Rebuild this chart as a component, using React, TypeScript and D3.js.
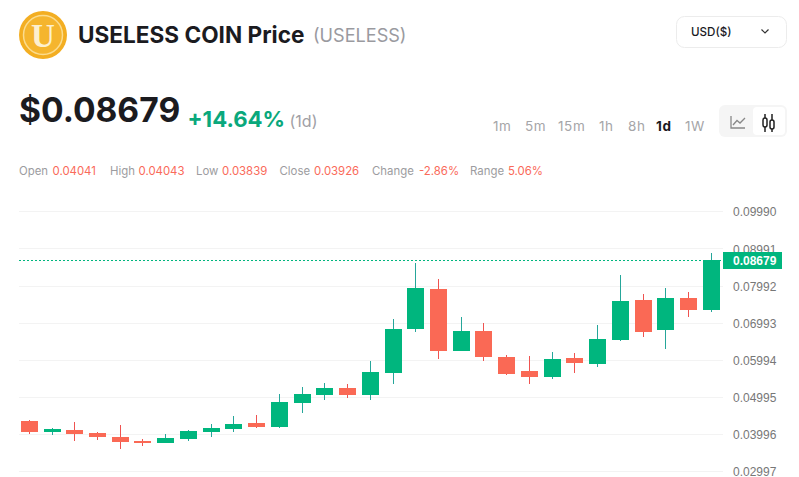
import React, { useEffect, useRef } from 'react';
import * as d3 from 'd3';

const opens = [0.04352, 0.04056, 0.0411, 0.04041, 0.03921, 0.03813, 0.0376, 0.03867, 0.04056, 0.04137, 0.04298, 0.04191, 0.04837, 0.05053, 0.05241, 0.05053, 0.05645, 0.06831, 0.07908, 0.06238, 0.06777, 0.06076, 0.05699, 0.05538, 0.06049, 0.05888, 0.06534, 0.07612, 0.06804, 0.07666, 0.07343];
const highs = [0.04379, 0.04164, 0.04325, 0.04043, 0.04244, 0.03867, 0.04002, 0.0411, 0.04271, 0.04487, 0.04514, 0.0508, 0.05268, 0.05376, 0.05349, 0.05969, 0.071, 0.08609, 0.08178, 0.07154, 0.06992, 0.0613, 0.06103, 0.06211, 0.06184, 0.06938, 0.08285, 0.07774, 0.07935, 0.07828, 0.08878];
const lows = [0.04002, 0.03975, 0.03813, 0.03839, 0.03598, 0.03679, 0.0376, 0.03813, 0.03921, 0.04056, 0.04164, 0.04164, 0.04568, 0.04918, 0.04972, 0.04918, 0.05349, 0.0675, 0.06022, 0.06238, 0.05969, 0.05591, 0.05349, 0.05484, 0.05645, 0.05807, 0.06507, 0.06615, 0.06292, 0.07154, 0.07289];
const closes = [0.04056, 0.04137, 0.04002, 0.03926, 0.03787, 0.0376, 0.03894, 0.04083, 0.04164, 0.04271, 0.04191, 0.04864, 0.0508, 0.05241, 0.05053, 0.05672, 0.06831, 0.07935, 0.06238, 0.06777, 0.06076, 0.05618, 0.05538, 0.06022, 0.05915, 0.06561, 0.07585, 0.0675, 0.07666, 0.07343, 0.08679];

const yTicks = [0.0999, 0.08991, 0.07992, 0.06993, 0.05994, 0.04995, 0.03996, 0.02997];
const lastPrice = 0.08679;

const ohlcLabels = [
  { label: 'Open', value: '0.04041', lx: 19, vx: 52.5 },
  { label: 'High', value: '0.04043', lx: 110, vx: 138.5 },
  { label: 'Low', value: '0.03839', lx: 196, vx: 222 },
  { label: 'Close', value: '0.03926', lx: 279.5, vx: 314 },
  { label: 'Change', value: '-2.86%', lx: 372, vx: 419 },
  { label: 'Range', value: '5.06%', lx: 470, vx: 508 },
];
const intervals = [
  { label: '1m', x: 493 },
  { label: '5m', x: 525 },
  { label: '15m', x: 558 },
  { label: '1h', x: 599 },
  { label: '8h', x: 628 },
  { label: '1d', x: 656 },
  { label: '1W', x: 685 },
];

const UP = '#00b67e';
const DOWN = '#fa6955';
const UP_WICK = '#26a69a';
const DOWN_WICK = '#ef5350';
const SANS = 'Inter, "Noto Sans", sans-serif';
const crisp = (v: number) => Math.floor(v) + 0.5;

export default function App() {
  const chartRef = useRef<SVGGElement>(null);

  useEffect(() => {
    if (!chartRef.current) return;
    const g = d3.select(chartRef.current);
    g.selectAll('*').remove();

    const y = d3.scaleLinear().domain([0.02997, 0.0999]).range([471.3, 211.7]);
    const x = d3.scaleLinear().domain([0, opens.length - 1]).range([29.3, 711.3]);
    const bodyW = 17;

    // Grid lines
    g.append('g')
      .selectAll('line')
      .data(yTicks)
      .join('line')
      .attr('x1', 19)
      .attr('x2', 723)
      .attr('y1', d => crisp(y(d) + 0.2))
      .attr('y2', d => crisp(y(d) + 0.2))
      .attr('stroke', '#f3f3f3')
      .attr('stroke-width', 1);

    // Axis
    const axis = g.append('g')
      .attr('transform', 'translate(723,0.4)')
      .call(d3.axisRight(y).tickValues(yTicks).tickFormat(d => (+d).toFixed(5)).tickSize(0).tickPadding(10));
    axis.select('.domain').remove();
    axis.selectAll('text')
      .attr('font-family', '"Liberation Sans", Arial, sans-serif')
      .attr('font-size', 12)
      .attr('fill', '#777777');

    // Last price line
    g.append('line')
      .attr('x1', 19)
      .attr('x2', 723)
      .attr('y1', crisp(y(lastPrice)))
      .attr('y2', crisp(y(lastPrice)))
      .attr('stroke', UP)
      .attr('stroke-width', 1)
      .attr('stroke-dasharray', '2 2');

    // Candles
    const candles = g.append('g')
      .selectAll('g')
      .data(opens.map((o, i) => ({ i, o, h: highs[i], l: lows[i], c: closes[i] })))
      .join('g');

    candles.append('line')
      .attr('x1', d => crisp(x(d.i)))
      .attr('x2', d => crisp(x(d.i)))
      .attr('y1', d => Math.round(y(d.h)))
      .attr('y2', d => Math.round(y(d.l)))
      .attr('stroke', d => (d.c >= d.o ? UP_WICK : DOWN_WICK))
      .attr('stroke-width', 1);

    candles.append('rect')
      .attr('x', d => crisp(x(d.i)) - bodyW / 2)
      .attr('width', bodyW)
      .attr('y', d => Math.round(y(Math.max(d.o, d.c))))
      .attr('height', d => Math.max(1, Math.round(y(Math.min(d.o, d.c))) - Math.round(y(Math.max(d.o, d.c)))))
      .attr('fill', d => (d.c >= d.o ? UP : DOWN));

    // Last price tag
    g.append('rect')
      .attr('x', 723)
      .attr('y', Math.round(y(lastPrice)) - 8)
      .attr('width', 59)
      .attr('height', 17)
      .attr('fill', UP);
    g.append('text')
      .attr('x', 733)
      .attr('y', y(lastPrice) + 4.5)
      .attr('font-family', '"Liberation Sans", Arial, sans-serif')
      .attr('font-size', 12)
      .attr('font-weight', 700)
      .attr('fill', '#ffffff')
      .text(lastPrice.toFixed(5));
  }, []);

  return (
    <svg width={799} height={477} style={{ position: 'absolute', left: 0, top: 0, background: '#fff' }} fontFamily={SANS}>
      {/* Logo */}
      <circle cx={43} cy={35} r={24} fill="#f3ae22" />
      <circle cx={43} cy={35} r={19.5} fill="#f5b52e" stroke="#fbdc8e" strokeWidth={1.5} />
      <text x={43} y={46.5} textAnchor="middle" fontFamily='"Liberation Serif", serif' fontWeight={700} fontSize={33} fill="#fdf0cf">U</text>

      <text x={78} y={42.5} fontSize={22.6} fontWeight={700} fill="#1b1b1f">USELESS COIN Price</text>
      <text x={313} y={42} fontSize={18.1} fill="#9a9a9f">(USELESS)</text>

      <rect x={676.5} y={16.5} width={110} height={31} rx={8} fill="#fff" stroke="#ececec" />
      <text x={691} y={36} fontSize={11.6} fontWeight={500} fill="#1b1b1f">USD($)</text>
      <path d="M761.5 29.5 L765 33 L768.5 29.5" fill="none" stroke="#333" strokeWidth={1.2} />

      <text x={19} y={122} fontSize={33.6} fontWeight={700} fill="#1b1b1f">$0.08679</text>
      <text x={187.5} y={127} fontSize={22.2} fontWeight={700} fill="#0aa87c">+14.64%</text>
      <text x={289.5} y={127} fontSize={16} fill="#a0a0a5">(1d)</text>

      {intervals.map(d => (
        <text key={d.label} x={d.x} y={131} fontSize={13.5} letterSpacing={0.6} fontWeight={d.label === '1d' ? 700 : 400} fill={d.label === '1d' ? '#1b1b1f' : '#a5a5a8'}>{d.label}</text>
      ))}

      <rect x={719} y={105} width={68} height={32} rx={6} fill="#f5f5f5" />
      <rect x={753} y={107} width={32} height={28} rx={4} fill="#fff" />
      <path d="M731 116 V128 H745 M733 125 L737 120.5 L740 123 L745 118" fill="none" stroke="#888" strokeWidth={1.3} />
      <g fill="none" stroke="#222" strokeWidth={1.5}>
        <path d="M765 114 V132 M772 114 V132" />
        <rect x={763} y={118} width={4} height={9} rx={2} fill="#fff" />
        <rect x={770} y={120} width={4} height={9} rx={2} fill="#fff" />
      </g>

      {ohlcLabels.map(d => (
        <g key={d.label} fontSize={11.4}>
          <text x={d.lx} y={175} fill="#9c9ca0">{d.label}</text>
          <text x={d.vx} y={175} fill="#fa6a5a">{d.value}</text>
        </g>
      ))}

      <g ref={chartRef} />
    </svg>
  );
}
